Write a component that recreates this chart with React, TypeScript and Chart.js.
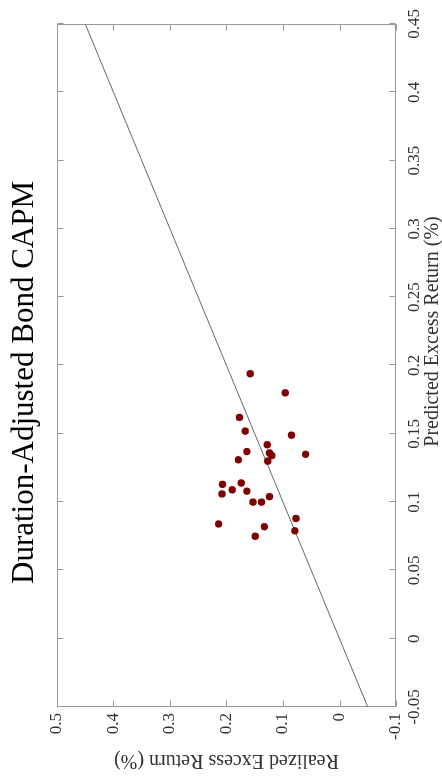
import React, { useEffect, useRef } from "react";
import { Chart, registerables } from "chart.js";

Chart.register(...registerables);

const chartTitle = "Duration-Adjusted Bond CAPM";
const xAxisTitle = "Predicted Excess Return (%)";
const yAxisTitle = "Realized Excess Return (%)";

const predictedReturns = [
  0.180, 0.162, 0.152, 0.149, 0.142, 0.137, 0.136, 0.134, 0.135, 0.131,
  0.130, 0.113, 0.114, 0.109, 0.106, 0.108, 0.100, 0.100, 0.104, 0.088,
  0.084, 0.082, 0.079, 0.075, 0.194,
];
const realizedReturns = [
  0.096, 0.177, 0.167, 0.085, 0.128, 0.164, 0.124, 0.120, 0.060, 0.179,
  0.127, 0.207, 0.174, 0.190, 0.208, 0.164, 0.153, 0.138, 0.124, 0.077,
  0.214, 0.133, 0.079, 0.149, 0.158,
];

const xTickValues = [-0.05, 0, 0.05, 0.1, 0.15, 0.2, 0.25, 0.3, 0.35, 0.4, 0.45];
const xTickLabels = ["-0.05", "0", "0.05", "0.1", "0.15", "0.2", "0.25", "0.3", "0.35", "0.4", "0.45"];
const yTickValues = [-0.1, 0, 0.1, 0.2, 0.3, 0.4, 0.5];
const yTickLabels = ["-0.1", "0", "0.1", "0.2", "0.3", "0.4", "0.5"];

// 45-degree reference line (realized = predicted)
const refLineEnds = [-0.05, 0.45];

const W = 776;
const H = 442;
const FONT = "'Liberation Serif', 'Times New Roman', serif";

const framePlugin = {
  id: "frame",
  beforeDatasetsDraw(chart: any) {
    const { ctx, chartArea: a, scales } = chart;
    const xs = scales.x;
    const ys = scales.y;
    const L = Math.round(a.left) + 0.5;
    const R = Math.round(a.right) - 0.5;
    const T = Math.round(a.top) + 0.5;
    const B = Math.round(a.bottom) - 0.5;
    ctx.save();
    ctx.strokeStyle = "#999";
    ctx.lineWidth = 1;
    ctx.strokeRect(L, T, R - L, B - T);
    ctx.beginPath();
    const tl = 6;
    xTickValues.forEach((v) => {
      const px = Math.round(xs.getPixelForValue(v)) + 0.5;
      ctx.moveTo(px, B);
      ctx.lineTo(px, B - tl);
      ctx.moveTo(px, T);
      ctx.lineTo(px, T + tl);
    });
    yTickValues.forEach((v) => {
      const py = Math.round(ys.getPixelForValue(v)) + 0.5;
      ctx.moveTo(L, py);
      ctx.lineTo(L + tl, py);
      ctx.moveTo(R, py);
      ctx.lineTo(R - tl, py);
    });
    ctx.stroke();
    ctx.restore();
  },
  afterDraw(chart: any) {
    const { ctx, chartArea: a } = chart;
    const cx = (a.left + a.right) / 2;
    ctx.save();
    ctx.font = `20px ${FONT}`;
    ctx.fillStyle = "#333";
    ctx.textAlign = "center";
    ctx.textBaseline = "middle";
    ctx.fillText(xAxisTitle, cx + 34, a.bottom + 37);
    ctx.font = `31px ${FONT}`;
    ctx.fillStyle = "#000";
    ctx.textBaseline = "alphabetic";
    ctx.fillText(chartTitle, cx - 17, a.top - 24);
    ctx.restore();
  },
};

export default function App() {
  const ref = useRef<HTMLCanvasElement>(null);

  useEffect(() => {
    if (!ref.current) return;
    const chart = new Chart(ref.current, {
      type: "scatter",
      data: {
        datasets: [
          {
            label: "Portfolios",
            data: predictedReturns.map((p, i) => ({ x: p, y: realizedReturns[i] })),
            backgroundColor: "#800000",
            borderWidth: 0,
            pointRadius: 3.7,
          } as any,
          {
            type: "line",
            label: "45-degree line",
            data: refLineEnds.map((v) => ({ x: v, y: v })),
            borderColor: "#666",
            borderWidth: 1,
            pointRadius: 0,
            fill: false,
            showLine: true,
          } as any,
        ],
      },
      options: {
        responsive: false,
        animation: false,
        devicePixelRatio: 1,
        layout: { padding: { top: 57, right: 24, bottom: 0, left: 0 } },
        plugins: {
          legend: { display: false },
          tooltip: { enabled: false },
          title: { display: false },
        },
        scales: {
          x: {
            type: "linear",
            position: "bottom",
            min: -0.05,
            max: 0.45,
            afterBuildTicks: (s: any) => {
              s.ticks = xTickValues.map((v) => ({ value: v }));
            },
            afterFit: (s: any) => {
              s.height = 46;
            },
            ticks: {
              callback: (_v: any, i: number) => xTickLabels[i],
              color: "#333",
              font: { family: FONT, size: 17 },
              padding: 8,
              maxRotation: 0,
              autoSkip: false,
            },
            grid: { display: false, drawTicks: false },
            border: { display: false },
          },
          y: {
            type: "linear",
            position: "left",
            min: -0.1,
            max: 0.5,
            afterBuildTicks: (s: any) => {
              s.ticks = yTickValues.map((v) => ({ value: v }));
            },
            afterFit: (s: any) => {
              s.width = 69;
            },
            ticks: {
              callback: (_v: any, i: number) => yTickLabels[i],
              color: "#333",
              font: { family: FONT, size: 17 },
              padding: 6,
              autoSkip: false,
            },
            grid: { display: false, drawTicks: false },
            border: { display: false },
            title: {
              display: true,
              text: yAxisTitle,
              color: "#333",
              font: { family: FONT, size: 20 },
              padding: { top: 4, bottom: 0 },
            },
          },
        },
      },
      plugins: [framePlugin],
    } as any);
    return () => chart.destroy();
  }, []);

  return (
    <div
      style={{
        position: "fixed",
        left: 0,
        top: 0,
        width: 442,
        height: 776,
        overflow: "hidden",
        background: "#fff",
      }}
    >
      <div
        style={{
          position: "absolute",
          left: 0,
          top: 0,
          width: W,
          height: H,
          transformOrigin: "0 0",
          transform: `translate(0px, ${W}px) rotate(-90deg)`,
        }}
      >
        <canvas ref={ref} width={W} height={H} style={{ display: "block", width: W, height: H }} />
      </div>
    </div>
  );
}
